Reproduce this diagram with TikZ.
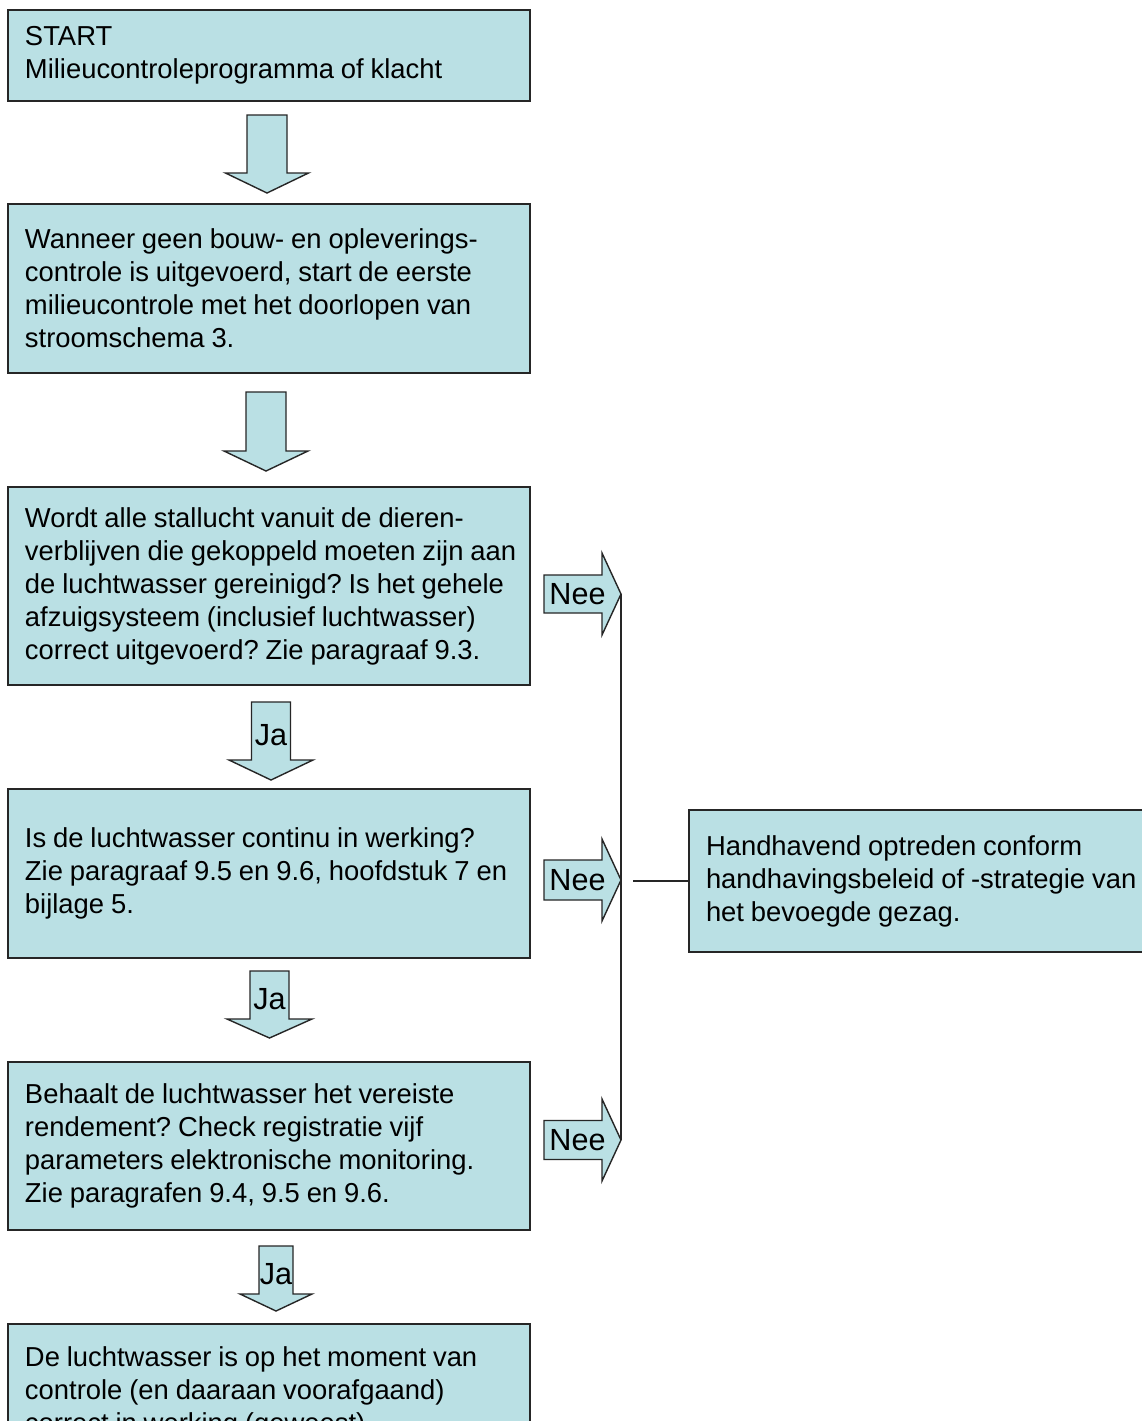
\documentclass[tikz,border=0pt]{standalone}
\usepackage{fontspec}
\setmainfont{Liberation Sans}
\usetikzlibrary{calc}

\definecolor{boxfill}{RGB}{186,224,228}
\definecolor{edge}{RGB}{38,38,38}
\newcommand\bodyfont{\fontsize{13.7pt}{16.5pt}\selectfont\frenchspacing}
\newcommand\tagfont{\fontsize{15.3pt}{18pt}\selectfont}
% one unbreakable line of box text
\newcommand\oneline[1]{\mbox{#1}}

\tikzset{
  stepbox/.style={draw=edge, line width=1pt, fill=boxfill, inner xsep=8.5pt,
    inner ysep=0pt, text width=244pt, align=left, font=\bodyfont, anchor=center,
    execute at begin node={\spaceskip=0.25em\relax}},
  blockarrow/.style={draw=edge, line width=0.7pt, fill=boxfill, line join=miter},
  arrowtag/.style={inner sep=0pt, font=\tagfont},
  link/.style={draw=edge, line width=1pt},
  % downward block arrow: shaft half width, head half width, shaft length, head length, label
  pics/dnarrow/.style n args={5}{code={
    \draw[blockarrow] (-#1,0) -- (#1,0) -- (#1,#3) -- (#2,#3) -- (0,#3+#4)
      -- (-#2,#3) -- (-#1,#3) -- cycle;
    \node[arrowtag] (-lbl) at (0,#3/2+4) {#5};
  }},
  % rightward block arrow: body half height, head half height, body length, head length, label
  pics/rtarrow/.style n args={5}{code={
    \draw[blockarrow] (0,-#1) -- (#3,-#1) -- (#3,-#2) -- (#3+#4,0) -- (#3,#2)
      -- (#3,#1) -- (0,#1) -- cycle;
    \coordinate (-tip) at (#3+#4,0);
    \node[arrowtag] (-lbl) at (33.5,0) {#5};
  }},
}

\begin{document}
\begin{tikzpicture}[x=0.5pt,y=-0.5pt]
\useasboundingbox (0,0) rectangle (1142,1421);
\fill[white] (0,0) rectangle (1142,1421);

% main column of steps
\node[stepbox, minimum height=45.5pt] (b1) at (269,55.5)
  {START\\Milieucontroleprogramma of klacht};
\node[stepbox, minimum height=84.5pt] (b2) at (269,288.5)
  {Wanneer geen bouw- en opleverings-\\controle is uitgevoerd, start de eerste\\milieucontrole met het doorlopen van\\stroomschema 3.};
\node[stepbox, minimum height=99pt] (b3) at (269,586)
  {\oneline{Wordt alle stallucht vanuit de dieren-}\\\oneline{verblijven die gekoppeld moeten zijn aan}\\\oneline{de luchtwasser gereinigd? Is het gehele}\\\oneline{afzuigsysteem (inclusief luchtwasser)}\\\oneline{correct uitgevoerd? Zie paragraaf 9.3.}};
\node[stepbox, minimum height=84.5pt] (b4) at (269,873.5)
  {Is de luchtwasser continu in werking?\\\oneline{Zie paragraaf 9.5 en 9.6, hoofdstuk 7 en}\\bijlage 5.};
\node[stepbox, minimum height=84pt] (b5) at (269,1146)
  {Behaalt de luchtwasser het vereiste\\rendement? Check registratie vijf\\\oneline{parameters elektronische monitoring.}\\Zie paragrafen 9.4, 9.5 en 9.6.};
\node[stepbox, minimum height=68pt] (b6) at (269,1392)
  {De luchtwasser is op het moment van\\controle (en daaraan voorafgaand)\\correct in werking (geweest).};

% enforcement step on the right
\node[stepbox, anchor=west, inner xsep=8.5pt, minimum height=71pt] (hb) at (688,881)
  {Handhavend optreden conform\\\oneline{handhavingsbeleid of -strategie van}\\het bevoegde gezag.};

% block arrows between the steps
\pic (a1) at ($(b1.south)+(-2,13)$) {dnarrow={20}{41.5}{58}{20}{}};
\pic (a2) at ($(b2.south)+(-3,18)$) {dnarrow={20}{42}{59}{20}{}};
\pic (j1) at ($(b3.south)+(2,16)$) {dnarrow={19.5}{42}{58}{20}{Ja}};
\pic (j2) at ($(b4.south)+(0.5,12)$) {dnarrow={19.5}{42.5}{48}{19}{Ja}};
\pic (j3) at ($(b5.south)+(7,15)$) {dnarrow={17}{36}{48}{17}{Ja}};

% "Nee" exits
\pic (n1) at ($(b3.east)+(13,8)$) {rtarrow={19}{41}{58}{19}{Nee}};
\pic (n2) at ($(b4.east)+(13,6.5)$) {rtarrow={20}{41}{58}{19}{Nee}};
\pic (n3) at ($(b5.east)+(13,-6)$) {rtarrow={19.5}{41}{58}{19}{Nee}};

% collecting line to the enforcement step
\draw[link] (n1-tip) -- (n3-tip);
\draw[link] ($(hb.west -| n2-tip)+(12,0)$) -- (hb.west);
\end{tikzpicture}
\end{document}
